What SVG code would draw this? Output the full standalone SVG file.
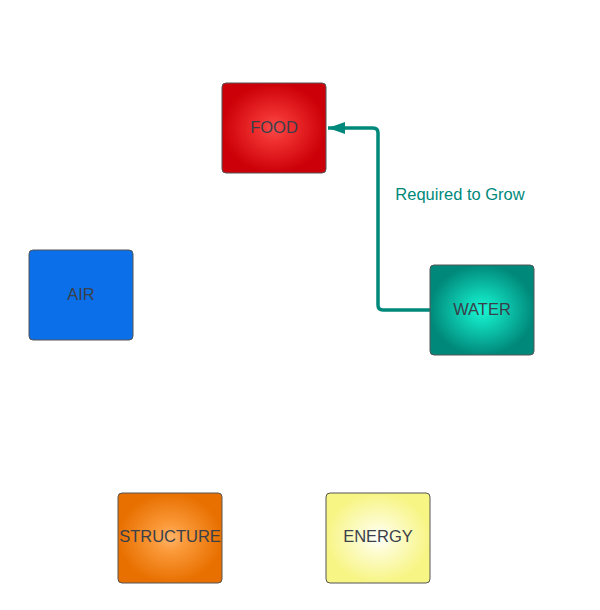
<svg xmlns="http://www.w3.org/2000/svg" width="600" height="610" viewBox="0 0 600 610">
<style>
.box{stroke:#555;stroke-width:1}
.lbl{font-family:"Liberation Sans",Arial,sans-serif;font-size:16.5px;fill:#3a3f4a;text-anchor:middle;dominant-baseline:central}
.conn{fill:none;stroke:#00897b;stroke-width:3.5;stroke-linejoin:round}
.clbl{font-family:"Liberation Sans",Arial,sans-serif;font-size:16.5px;fill:#00897b;text-anchor:middle;dominant-baseline:central}
</style>
<defs>
<radialGradient id="gRed"><stop offset="0" stop-color="#f84a4a"/><stop offset="0.3" stop-color="#f03030"/><stop offset="1" stop-color="#cc0008"/></radialGradient>
<radialGradient id="gTeal"><stop offset="0" stop-color="#1af5d3"/><stop offset="0.3" stop-color="#10d8ba"/><stop offset="1" stop-color="#00897b"/></radialGradient>
<radialGradient id="gOrange"><stop offset="0" stop-color="#ffb56a"/><stop offset="0.3" stop-color="#fb9a3a"/><stop offset="1" stop-color="#e87000"/></radialGradient>
<radialGradient id="gYellow"><stop offset="0" stop-color="#ffffff"/><stop offset="0.3" stop-color="#fdfcd2"/><stop offset="1" stop-color="#f7f584"/></radialGradient>
<marker id="arr" markerWidth="18" markerHeight="14" refX="17" refY="7" orient="auto" markerUnits="userSpaceOnUse"><path d="M0,1 L17,7 L0,13 Z" fill="#00897b"/></marker>
</defs>
<g id="connectors">
<path class="conn" d="M430,310 H383 Q378,310 378,305 V133 Q378,128 373,128 H328" marker-end="url(#arr)"/>
<text class="clbl" x="460" y="194">Required to Grow</text>
</g>
<g id="food"><rect class="box" x="222" y="83" width="104" height="90" rx="4" fill="url(#gRed)"/><text class="lbl" x="274" y="127">FOOD</text></g>
<g id="air"><rect class="box" x="29" y="250" width="104" height="90" rx="4" fill="#0a6fe8"/><text class="lbl" x="81" y="294">AIR</text></g>
<g id="water"><rect class="box" x="430" y="265" width="104" height="90" rx="4" fill="url(#gTeal)"/><text class="lbl" x="482" y="309">WATER</text></g>
<g id="structure"><rect class="box" x="118" y="493" width="104" height="90" rx="4" fill="url(#gOrange)"/><text class="lbl" x="170" y="536">STRUCTURE</text></g>
<g id="energy"><rect class="box" x="326" y="493" width="104" height="90" rx="4" fill="url(#gYellow)"/><text class="lbl" x="378" y="536">ENERGY</text></g>
</svg>
